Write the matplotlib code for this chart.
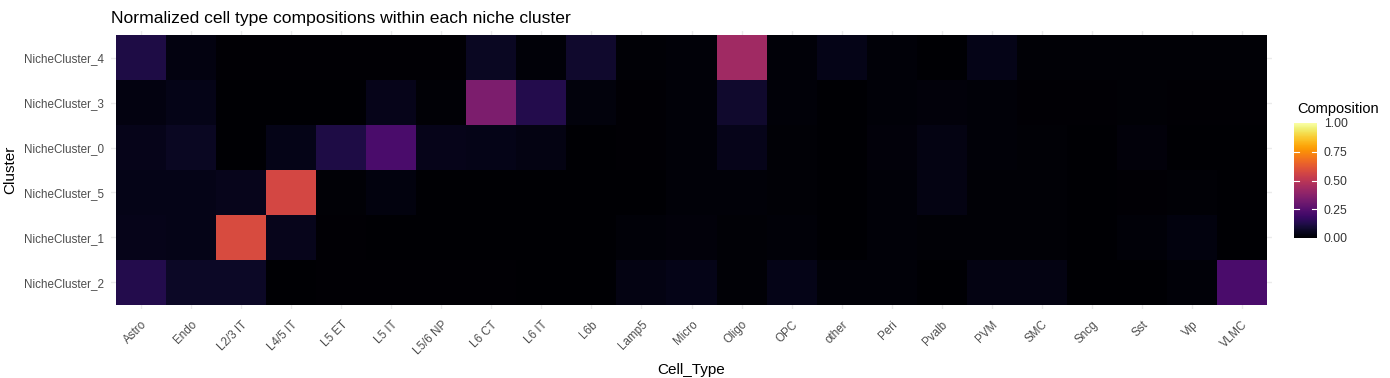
"""Normalized cell type compositions per niche cluster, drawn as a heatmap."""

import matplotlib
matplotlib.use('Agg')
import matplotlib.pyplot as plt
import numpy as np

plt.rcParams['font.family'] = ['Liberation Sans', 'DejaVu Sans']

# --- Data ---
CELL_TYPES = ['Astro', 'Endo', 'L2/3 IT', 'L4/5 IT', 'L5 ET', 'L5 IT', 'L5/6 NP',
              'L6 CT', 'L6 IT', 'L6b', 'Lamp5', 'Micro', 'Oligo', 'OPC', 'other',
              'Peri', 'Pvalb', 'PVM', 'SMC', 'Sncg', 'Sst', 'Vip', 'VLMC']

# rows from top to bottom
CLUSTERS = ['NicheCluster_4', 'NicheCluster_3', 'NicheCluster_0',
            'NicheCluster_5', 'NicheCluster_1', 'NicheCluster_2']

cluster_4 = [0.12, 0.03, 0.005, 0.005, 0.005, 0.005, 0.005, 0.06, 0.015, 0.08, 0.008, 0.012,
             0.43, 0.012, 0.04, 0.012, 0.002, 0.04, 0.008, 0.008, 0.008, 0.008, 0.008]
cluster_3 = [0.03, 0.04, 0.003, 0.003, 0.003, 0.045, 0.01, 0.34, 0.13, 0.02, 0.005, 0.012,
             0.08, 0.012, 0.003, 0.012, 0.018, 0.012, 0.005, 0.005, 0.008, 0.005, 0.005]
cluster_0 = [0.045, 0.06, 0.003, 0.04, 0.12, 0.22, 0.045, 0.04, 0.035, 0.003, 0.006, 0.015,
             0.045, 0.01, 0.003, 0.018, 0.035, 0.012, 0.008, 0.003, 0.018, 0.003, 0.003]
cluster_5 = [0.04, 0.04, 0.05, 0.57, 0.01, 0.025, 0.003, 0.003, 0.003, 0.003, 0.003, 0.012,
             0.012, 0.01, 0.003, 0.012, 0.035, 0.01, 0.008, 0.003, 0.006, 0.01, 0.003]
cluster_1 = [0.045, 0.04, 0.58, 0.05, 0.005, 0.003, 0.003, 0.003, 0.003, 0.003, 0.015, 0.018,
             0.01, 0.014, 0.002, 0.014, 0.01, 0.01, 0.01, 0.003, 0.014, 0.025, 0.003]
cluster_2 = [0.13, 0.07, 0.07, 0.003, 0.005, 0.005, 0.005, 0.005, 0.003, 0.003, 0.035, 0.04,
             0.01, 0.04, 0.012, 0.012, 0.001, 0.035, 0.035, 0.003, 0.003, 0.015, 0.22]

ROWS = [cluster_4, cluster_3, cluster_0, cluster_5, cluster_1, cluster_2]


def main():
    fig = plt.figure(figsize=(13.9, 3.78), dpi=100)
    W, H = 1390, 378

    # panel area (pixels) -> figure fractions
    px0, px1, py0, py1 = 111, 1272, 31, 309
    ax = fig.add_axes([px0 / W, 1 - py1 / H, (px1 - px0) / W, (py1 - py0) / H])

    values = np.array(ROWS[::-1])   # bottom row first for pcolormesh
    n_rows, n_cols = values.shape
    x_edges = np.arange(n_cols + 1) - 0.5
    y_edges = np.arange(n_rows + 1) - 0.5

    # grid lines behind the tiles (only visible at the panel margins)
    for i in range(n_cols):
        ax.axvline(i, color='#ebebeb', linewidth=1.0, zorder=0)
    for j in range(n_rows):
        ax.axhline(j, color='#ebebeb', linewidth=1.0, zorder=0)

    mesh = ax.pcolormesh(x_edges, y_edges, values, cmap='inferno',
                         vmin=0, vmax=1, zorder=1)

    ax.set_xlim(-0.6, n_cols - 0.4)
    ax.set_ylim(-0.59, n_rows - 0.41)

    ax.set_xticks(np.arange(n_cols))
    ax.set_xticklabels(CELL_TYPES, rotation=45, ha='right',
                       rotation_mode='anchor', fontsize=8.4, color='#4d4d4d')
    ax.set_yticks(np.arange(n_rows))
    ax.set_yticklabels(CLUSTERS[::-1], fontsize=8.4, color='#4d4d4d')
    ax.tick_params(length=0, pad=5)
    ax.tick_params(axis='x', pad=7)
    for s in ax.spines.values():
        s.set_visible(False)

    ax.set_xlabel('Cell_Type', fontsize=11)
    ax.set_ylabel('Cluster', fontsize=11, labelpad=5)

    fig.text(px0 / W, 1 - 23 / H, 'Normalized cell type compositions within each niche cluster',
             fontsize=12.6, ha='left', va='baseline')

    # colour bar legend
    cx0, cx1, cy0, cy1 = 1294, 1317, 123, 238
    cax = fig.add_axes([cx0 / W, 1 - cy1 / H, (cx1 - cx0) / W, (cy1 - cy0) / H])
    cb = fig.colorbar(mesh, cax=cax, ticks=[0, 0.25, 0.5, 0.75, 1.0])
    cb.outline.set_visible(False)
    cb.ax.set_yticklabels(['0.00', '0.25', '0.50', '0.75', '1.00'])
    cb.ax.tick_params(length=0, labelsize=8.8, labelcolor='#333333', pad=5)
    for t in [0.25, 0.5, 0.75]:
        cax.plot([0, 0.2], [t, t], color='white', linewidth=0.8, transform=cax.transAxes)
        cax.plot([0.8, 1.0], [t, t], color='white', linewidth=0.8, transform=cax.transAxes)
    fig.text(cx0 / W + 0.002, 1 - 113 / H, 'Composition', fontsize=10.5, ha='left', va='baseline')

    plt.savefig('out.png', dpi=100)
    plt.close()


if __name__ == '__main__':
    main()
